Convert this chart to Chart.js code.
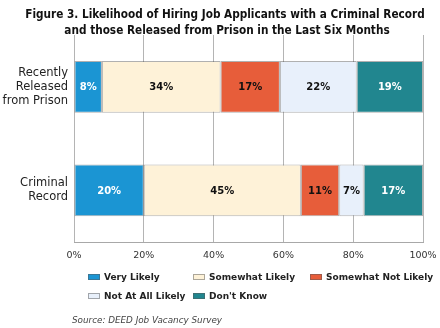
<!DOCTYPE html>
<html>
<head>
<meta charset="utf-8">
<script src="https://cdn.jsdelivr.net/npm/chart.js@4"></script>
<style>
  html, body { margin: 0; padding: 0; background: #fff; }
  #wrap { width: 440px; height: 328px; position: relative; }
</style>
</head>
<body>
<div id="wrap"><canvas id="hiringChart" width="440" height="328"></canvas></div>
<script>
// Survey answers, percent of employers
const categories = [['Recently', 'Released', 'from Prison'], ['Criminal', 'Record']];
const seriesNames = ['Very Likely', 'Somewhat Likely', 'Somewhat Not Likely', 'Not At All Likely', "Don't Know"];
const veryLikely = [8, 20];
const somewhatLikely = [34, 45];
const somewhatNotLikely = [17, 11];
const notAtAllLikely = [22, 7];
const dontKnow = [19, 17];
const tickValues = [0, 20, 40, 60, 80, 100];

const titleLines = [
    'Figure 3. Likelihood of Hiring Job Applicants with a Criminal Record',
    'and those Released from Prison in the Last Six Months'
];
const sourceText = 'Source: DEED Job Vacancy Survey';

const colors = ['#1b95d3', '#fef2d8', '#e75d3a', '#e8f0fb', '#21868f'];
const labelColors = ['#fff', '#111', '#111', '#111', '#fff'];
const FONT = '"DejaVu Sans", Verdana, sans-serif';
const FONT_COND = '"DejaVu Sans Condensed", "DejaVu Sans", sans-serif';

const seriesValues = [veryLikely, somewhatLikely, somewhatNotLikely, notAtAllLikely, dontKnow];

// title, value labels, legend and source note
const extras = {
    id: 'extras',
    afterDatasetsDraw(chart) {
        const ctx = chart.ctx;
        ctx.save();

        // values inside each segment
        ctx.font = 'bold 10px ' + FONT;
        ctx.textAlign = 'center';
        ctx.textBaseline = 'middle';
        chart.data.datasets.forEach((ds, i) => {
            chart.getDatasetMeta(i).data.forEach((bar, j) => {
                const left = Math.min(bar.x, bar.base);
                const right = Math.max(bar.x, bar.base);
                ctx.fillStyle = labelColors[i];
                ctx.fillText(ds.data[j] + '%', (left + right) / 2, bar.y + 1);
            });
        });

        // title
        ctx.fillStyle = '#111';
        ctx.font = 'bold 11.7px ' + FONT_COND;
        ctx.fillText(titleLines[0], 225, 15);
        ctx.fillText(titleLines[1], 227, 31);

        // legend in two rows, three columns
        const cols = [88, 193, 310];
        const rows = [277, 296];
        ctx.font = 'bold 9px ' + FONT;
        ctx.textAlign = 'left';
        chart.data.datasets.forEach((ds, i) => {
            const x = cols[i % 3];
            const y = rows[Math.floor(i / 3)];
            ctx.fillStyle = ds.backgroundColor;
            ctx.fillRect(x, y - 3, 12, 6);
            ctx.strokeStyle = 'rgba(90,90,90,0.5)';
            ctx.lineWidth = 1;
            ctx.strokeRect(x + 0.5, y - 2.5, 11, 5);
            ctx.fillStyle = '#222';
            ctx.fillText(ds.label, x + 16, y + 1);
        });

        // source note
        ctx.font = 'italic 8.8px ' + FONT;
        ctx.fillStyle = '#444';
        ctx.fillText(sourceText, 72, 321);

        ctx.restore();
    }
};

new Chart(document.getElementById('hiringChart'), {
    type: 'bar',
    data: {
        labels: categories,
        datasets: seriesNames.map((name, i) => ({
            label: name,
            data: seriesValues[i],
            backgroundColor: colors[i],
            borderColor: 'rgba(80,80,80,0.45)',
            borderWidth: 1,
            borderSkipped: false,
            barPercentage: 0.5,
            categoryPercentage: 1
        }))
    },
    options: {
        indexAxis: 'y',
        responsive: false,
        animation: false,
        devicePixelRatio: 1,
        layout: { padding: { top: 35, right: 17, bottom: 0, left: 0 } },
        plugins: {
            legend: { display: false },
            title: { display: false },
            tooltip: { enabled: false }
        },
        scales: {
            x: {
                stacked: true,
                min: 0,
                max: 100,
                afterBuildTicks: (scale) => { scale.ticks = tickValues.map(v => ({ value: v })); },
                afterFit: (scale) => {
                    scale.height = 86;
                    scale.paddingLeft = 0;
                    scale.paddingRight = 0;
                },
                grid: { color: '#b4b4b4', drawTicks: false },
                border: { color: '#a8a8a8' },
                ticks: {
                    padding: 8,
                    maxRotation: 0,
                    color: '#333',
                    font: { family: FONT, size: 9.5 },
                    callback: (v) => v + '%'
                }
            },
            y: {
                stacked: true,
                afterFit: (scale) => { scale.width = 74; },
                grid: { display: false, drawTicks: false },
                border: { display: false },
                ticks: {
                    padding: 6,
                    color: '#222',
                    font: { family: FONT, size: 11.5, lineHeight: 1.2 }
                }
            }
        }
    },
    plugins: [extras]
});
</script>
</body>
</html>
